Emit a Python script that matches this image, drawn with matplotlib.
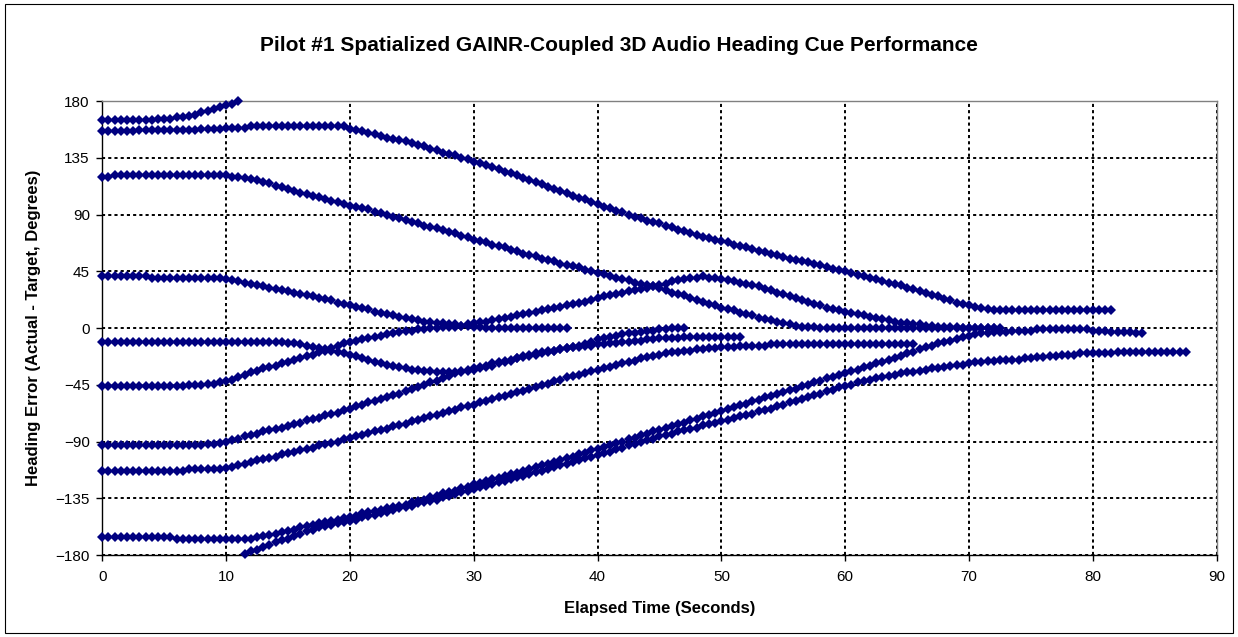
import numpy as np
import matplotlib
matplotlib.use("Agg")
import matplotlib.pyplot as plt
from matplotlib.patches import Rectangle

# heading error samples, one every 0.5 s, each run starts at its own time
step = 0.5

run1_start = 0.0
run1 = [165, 165, 165, 165, 165, 165, 165, 165, 165, 166, 166, 166,
        167, 167, 168, 169, 171, 172, 174, 175, 177, 178, 180]

# run 1 after wrapping past 180
run1b_start = 11.5
run1b = [-179, -177, -176, -174, -172, -170, -168, -167, -165, -163, -161, -160, -158, -157, -156, -155, -154,
         -153, -152, -150, -149, -148, -147, -146, -144, -143, -142, -141, -139, -138, -137, -136, -134, -133, -132, -130, -129,
         -128, -126, -125, -124, -122, -121, -120, -118, -117, -116, -114, -113, -112, -110, -109, -108, -106, -105, -103, -102,
         -101, -99, -98, -96, -95, -93, -92, -90, -89, -88, -86, -85, -84, -82, -81, -80, -79, -77, -76, -75,
         -74, -73, -71, -70, -69, -68, -66, -65, -64, -62, -61, -59, -58, -56, -55, -53, -52, -50, -49, -47,
         -46, -45, -43, -42, -41, -40, -39, -38, -37, -36, -35, -35, -34, -33, -32, -32, -31, -30, -29, -29,
         -28, -27, -27, -26, -26, -25, -25, -25, -25, -24, -24, -23, -23, -22, -22, -21, -21, -21, -20, -20,
         -20, -20, -20, -20, -19, -19, -19, -19, -19, -19, -19, -19, -19, -19, -19, -19]

run2_start = 0.0
run2 = [156, 156, 156, 156, 156, 156, 157, 157, 157, 157, 157, 157, 157, 157, 157, 157, 158, 158, 158, 158,
        159, 159, 159, 159, 160, 160, 160, 160, 160, 160, 160, 160, 160, 160, 160, 160, 160, 160, 160, 160,
        158, 157, 156, 155, 154, 152, 151, 150, 149, 148, 147, 145, 144, 142, 141, 139, 138, 137, 135, 134,
        132, 131, 129, 128, 126, 124, 123, 121, 119, 117, 116, 114, 112, 110, 109, 107, 105, 103, 102, 100,
        98, 96, 95, 93, 92, 90, 88, 87, 85, 84, 83, 81, 80, 78, 77, 75, 74, 72, 71, 70,
        69, 68, 66, 65, 64, 63, 61, 60, 59, 58, 56, 55, 54, 53, 52, 51, 50, 48, 47, 46,
        45, 44, 42, 41, 40, 39, 37, 36, 35, 34, 32, 31, 29, 28, 26, 25, 23, 22, 20, 19,
        18, 17, 16, 15, 14, 14, 14, 14, 14, 14, 14, 14, 14, 14, 14, 14, 14, 14, 14, 14,
        14, 14, 14, 14]

run3_start = 0.0
run3 = [120, 120, 121, 121, 121, 121, 121, 121, 121, 121, 121, 121, 121, 121, 121, 121, 121, 121, 121, 121,
        121, 120, 120, 119, 118, 117, 116, 115, 113, 112, 110, 109, 107, 106, 105, 104, 102, 101, 100, 98,
        97, 96, 95, 94, 92, 91, 90, 88, 87, 86, 84, 83, 81, 80, 79, 78, 76, 75, 73, 72,
        70, 69, 68, 66, 65, 64, 62, 61, 59, 58, 57, 55, 54, 53, 51, 50, 49, 48, 46, 45,
        44, 43, 41, 40, 39, 38, 36, 35, 34, 33, 32, 30, 28, 27, 26, 24, 22, 21, 19, 18,
        16, 15, 14, 12, 11, 10, 8, 7, 6, 5, 4, 3, 2, 1, 1, 1, 0, 0, 0, 0,
        0, 0, 0, 0, 0, 0, 0, 0, 0, 0, 0, 0, 0, 0, 0, 0, 0, 0, 0, 0,
        0, 0, 0, 0, 0, 0]

run4_start = 0.0
run4 = [41, 41, 41, 41, 41, 41, 41, 41, 40, 40, 40, 40, 40, 40, 40, 40, 40, 40, 40, 40,
        39, 38, 37, 36, 35, 34, 33, 32, 31, 30, 29, 28, 27, 26, 25, 24, 23, 22, 20, 19,
        18, 17, 16, 15, 13, 12, 11, 10, 9, 8, 7, 6, 5, 5, 4, 4, 3, 3, 2, 2,
        1, 1, 0, 0, 0, 0, 0, 0, 0, 0, 0, 0, 0, 0, 0, 0]

run5_start = 0.0
run5 = [-11, -11, -11, -11, -11, -11, -11, -11, -11, -11, -11, -11, -11, -11, -11, -11, -11, -11, -11, -11,
        -11, -11, -11, -11, -11, -11, -11, -11, -11, -11, -12, -12, -13, -14, -15, -16, -17, -18, -19, -20,
        -21, -22, -24, -25, -27, -28, -29, -30, -31, -32, -33, -33, -34, -34, -35, -35, -35, -35, -34, -34,
        -33, -32, -31, -30, -28, -27, -26, -24, -23, -22, -21, -20, -19, -18, -17, -16, -15, -14, -13, -11,
        -9, -8, -7, -6, -5, -4, -4, -3, -2, -2, -1, -1, 0, 0, 0]

run6_start = 0.0
run6 = [-46, -46, -46, -46, -46, -46, -46, -46, -46, -46, -46, -46, -46, -46, -45, -45, -45, -44, -44, -43,
        -42, -41, -39, -37, -35, -34, -32, -31, -30, -28, -27, -25, -24, -22, -21, -19, -18, -16, -14, -12,
        -11, -10, -9, -8, -7, -6, -5, -4, -3, -2, -2, -1, -1, 0, 0, 1, 1, 1, 2, 3,
        4, 5, 5, 6, 7, 8, 9, 10, 11, 12, 13, 14, 15, 16, 17, 18, 19, 20, 21, 22,
        24, 25, 26, 27, 28, 29, 30, 31, 32, 33, 34, 35, 37, 38, 39, 40, 40, 41, 40, 40,
        39, 38, 37, 36, 35, 34, 33, 31, 30, 28, 27, 25, 24, 22, 21, 19, 18, 16, 15, 14,
        13, 12, 11, 10, 9, 8, 7, 6, 5, 4, 4, 3, 3, 2, 2, 1, 1, 1, 1, 0,
        0, 0, 0, 0, 0]

run7_start = 0.0
run7 = [-93, -93, -93, -93, -93, -93, -93, -93, -93, -93, -93, -93, -93, -93, -93, -93, -93, -92, -92, -91,
        -90, -89, -88, -86, -85, -84, -82, -81, -80, -79, -78, -76, -75, -73, -72, -71, -69, -68, -67, -65,
        -64, -62, -61, -59, -58, -56, -55, -53, -52, -50, -48, -47, -45, -43, -42, -40, -38, -36, -35, -33,
        -32, -31, -30, -28, -27, -26, -25, -24, -22, -21, -20, -19, -18, -18, -17, -16, -15, -15, -14, -14,
        -13, -13, -12, -12, -11, -11, -10, -10, -9, -9, -8, -8, -8, -8, -7, -7, -7, -7, -7, -7,
        -7, -7, -7, -7]

run8_start = 0.0
run8 = [-113, -113, -113, -113, -113, -113, -113, -113, -113, -113, -113, -113, -113, -113, -112, -112, -112, -112, -112, -112,
        -111, -110, -109, -108, -106, -105, -104, -103, -102, -100, -99, -98, -97, -96, -95, -93, -92, -91, -90, -88,
        -87, -86, -85, -83, -82, -81, -80, -78, -77, -76, -74, -73, -71, -70, -69, -67, -66, -65, -63, -62,
        -61, -59, -58, -56, -55, -54, -52, -51, -50, -48, -47, -45, -44, -42, -41, -39, -38, -37, -36, -34,
        -33, -32, -31, -29, -28, -27, -26, -24, -23, -22, -21, -20, -19, -19, -18, -18, -17, -17, -16, -16,
        -15, -15, -15, -14, -14, -14, -14, -14, -13, -13, -13, -13, -13, -13, -13, -13, -13, -13, -13, -13,
        -13, -13, -13, -13, -13, -13, -13, -13, -13, -13, -13, -13]

run9_start = 0.0
run9 = [-166, -166, -166, -166, -166, -166, -166, -166, -166, -166, -166, -166, -167, -167, -167, -167, -167, -167, -167, -167,
        -167, -167, -167, -167, -167, -166, -165, -164, -163, -162, -161, -160, -158, -157, -156, -155, -154, -153, -152, -151,
        -150, -149, -147, -146, -145, -144, -143, -142, -141, -140, -138, -137, -136, -134, -133, -131, -130, -129, -127, -126,
        -124, -123, -121, -120, -119, -117, -116, -115, -113, -112, -110, -109, -108, -106, -105, -103, -102, -100, -99, -97,
        -96, -94, -93, -91, -90, -88, -87, -85, -84, -82, -81, -79, -78, -76, -75, -73, -72, -70, -69, -67,
        -66, -64, -63, -61, -60, -58, -57, -55, -54, -52, -51, -49, -48, -46, -45, -43, -42, -40, -39, -37,
        -36, -34, -33, -31, -30, -28, -27, -25, -24, -22, -20, -19, -17, -15, -14, -12, -11, -10, -9, -7,
        -6, -5, -4, -4, -3, -3, -3, -2, -2, -2, -2, -1, -1, -1, -1, -1, -1, -1, -1, -1,
        -2, -2, -2, -3, -3, -3, -3, -4, -4]

runs = [(run1_start, run1), (run1b_start, run1b), (run2_start, run2), (run3_start, run3),
        (run4_start, run4), (run5_start, run5), (run6_start, run6), (run7_start, run7),
        (run8_start, run8), (run9_start, run9)]

x_ticks = list(range(0, 91, 10))
y_ticks = list(range(-180, 181, 45))

plt.rcParams['font.family'] = ['Liberation Sans', 'DejaVu Sans']

fig = plt.figure(figsize=(12.38, 6.37), dpi=100)
fig.patches.append(Rectangle((0.004, 0.006), 0.992, 0.988, transform=fig.transFigure,
                             fill=False, edgecolor='black', linewidth=0.8))
ax = fig.add_axes([0.0826, 0.1287, 0.9002, 0.7127])

for start, vals in runs:
    t = start + step * np.arange(len(vals))
    ax.plot(t, vals, linestyle='none', marker='D', markersize=5.0,
            color='#000080', markeredgewidth=0, clip_on=False, zorder=3)

ax.set_xlim(0, 90)
ax.set_ylim(-180, 180)
ax.set_xticks(x_ticks)
ax.set_yticks(y_ticks)
ax.grid(True, color='black', linestyle=(0, (1.6, 1.6)), linewidth=1.4)
ax.tick_params(direction='out', length=4, width=1, labelsize=11, colors='black', pad=5)
ax.tick_params(axis='x', pad=7)

for side in ['left', 'bottom']:
    ax.spines[side].set_color('black')
    ax.spines[side].set_linewidth(1.0)
for side in ['top', 'right']:
    ax.spines[side].set_color('#808080')
    ax.spines[side].set_linewidth(1.0)

ax.set_xlabel('Elapsed Time (Seconds)', fontsize=12, fontweight='bold', labelpad=12)
ax.set_ylabel('Heading Error (Actual - Target, Degrees)', fontsize=12, fontweight='bold', labelpad=10)
fig.text(0.5, 0.928, 'Pilot #1 Spatialized GAINR-Coupled 3D Audio Heading Cue Performance',
         ha='center', va='center', fontsize=15, fontweight='bold')

fig.savefig('out.png', dpi=100)
